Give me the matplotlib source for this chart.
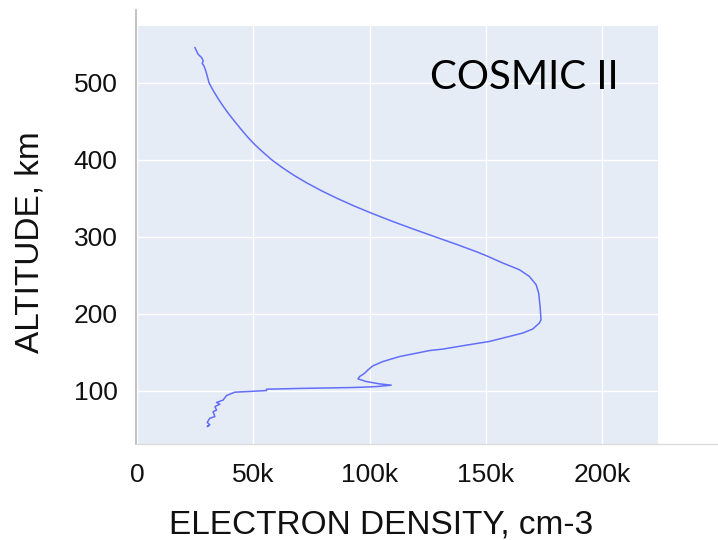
import matplotlib.pyplot as plt
from matplotlib.lines import Line2D
from matplotlib.ticker import FuncFormatter

# electron density profile (cm-3) vs altitude (km), top of profile first
density = [24.9e3, 26.3e3, 27.8e3, 28.5e3, 28.0e3, 28.8e3, 29.6e3, 31.0e3, 32.8e3,
           34.8e3, 37.0e3, 39.4e3, 42.0e3, 44.7e3, 47.5e3, 50.6e3, 54.2e3, 58.0e3,
           62.5e3, 67.5e3, 73.1e3, 79.3e3, 86.1e3, 93.5e3, 101.5e3, 110.0e3,
           119.0e3, 128.3e3, 137.7e3, 146.6e3, 150.1e3, 157.2e3, 164.4e3, 168.7e3,
           171.6e3, 172.7e3, 173.3e3, 173.7e3, 173.0e3, 170.1e3, 165.8e3, 160.1e3,
           151.5e3, 140.0e3, 131.5e3, 125.8e3, 112.9e3, 105.7e3, 101.4e3, 99.3e3,
           97.9e3, 95.7e3, 95.0e3, 98.6e3, 104.3e3, 109.3e3, 102.9e3, 97.1e3,
           91.4e3, 70.0e3, 55.7e3, 55.7e3, 42.0e3, 38.5e3, 37.0e3, 34.2e3, 35.6e3,
           33.5e3, 34.2e3, 32.7e3, 33.5e3, 31.3e3, 30.2e3, 31.3e3, 30.2e3, 30.9e3]
altitude = [545.9, 537.2, 532.9, 528.5, 525.5, 522.0, 515.5, 500.0, 490.0,
            480.0, 470.0, 460.0, 450.0, 440.0, 430.0, 420.0, 410.0, 400.0,
            390.0, 380.0, 370.0, 360.0, 350.0, 340.0, 330.0, 320.0,
            310.0, 300.0, 290.0, 280.0, 275.7, 266.2, 257.4, 248.7,
            237.9, 227.1, 209.7, 192.4, 188.1, 180.3, 175.1, 170.7,
            164.2, 158.6, 154.3, 152.4, 144.6, 138.1, 132.5, 127.3,
            123.0, 118.6, 115.6, 112.1, 109.1, 107.4, 105.6, 104.8,
            104.3, 103.2, 102.2, 100.4, 98.3, 94.0, 88.0, 85.0, 82.7,
            79.6, 75.0, 73.0, 66.6, 64.5, 59.0, 56.0, 53.6, 55.0]

x_ticks = [0, 50e3, 100e3, 150e3, 200e3]
y_ticks = [100, 200, 300, 400, 500]

fig = plt.figure(figsize=(7.18, 5.40), dpi=100)
ax = fig.add_axes([137 / 718, 1 - 444 / 540, 521 / 718, 418 / 540])
ax.set_facecolor("#E5ECF6")
ax.plot(density, altitude, color="#636EFA", lw=1.1)

ax.set_xlim(0, 224e3)
ax.set_ylim(31, 574)
ax.set_xticks(x_ticks)
ax.set_yticks(y_ticks)
ax.xaxis.set_major_formatter(FuncFormatter(lambda v, p: "0" if v == 0 else f"{v / 1000:.0f}k"))
ax.grid(True, color="white", lw=1.0)
ax.set_axisbelow(True)
ax.tick_params(length=0, labelsize=19, pad=14, labelcolor="#111111")
for lbl in ax.get_xticklabels() + ax.get_yticklabels():
    lbl.set_family("Liberation Sans")
for s in ax.spines.values():
    s.set_visible(False)

# outer axis lines
fig.add_artist(Line2D([136 / 718, 136 / 718], [1 - 10 / 540, 1 - 444 / 540],
                      color="#b5b5b5", lw=1.2))
fig.add_artist(Line2D([137 / 718, 1.0], [1 - 444 / 540, 1 - 444 / 540],
                      color="#dcdcdc", lw=1.0))

ax.text(430 / 718, 1 - 78 / 540, "COSMIC II", transform=fig.transFigure,
        fontsize=29, family="Lato", va="center", ha="left", color="black")

fig.text(381 / 718, 1 - 525 / 540, "ELECTRON DENSITY, cm-3", fontsize=24,
         family="Liberation Sans", ha="center", va="center", color="#111111")
fig.text(30 / 718, 1 - 242 / 540, "ALTITUDE, km", fontsize=24, rotation=90,
         family="Liberation Sans", ha="center", va="center", color="#111111")

fig.savefig("out.png", dpi=100)
